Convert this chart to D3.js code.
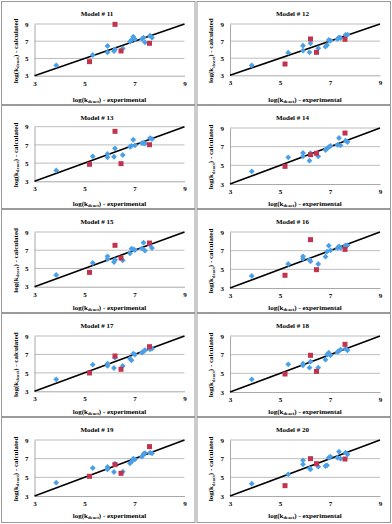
<!DOCTYPE html>
<html><head><meta charset="utf-8">
<script src="https://cdn.jsdelivr.net/npm/d3@7"></script>
<style>body{margin:0;background:#fff}svg{display:block}</style>
</head><body>
<svg id="c" width="392" height="524"></svg>
<script>
// ---- data ----
const models = ["Model # 11","Model # 12","Model # 13","Model # 14","Model # 15","Model # 16","Model # 17","Model # 18","Model # 19","Model # 20"];
const ticks = [3,5,7,9];
const blueX = [3.87,5.33,5.92,5.92,6.18,6.22,6.53,6.82,6.88,6.95,7.02,7.30,7.36,7.42,7.62,7.70];
const redX  = [5.20,6.22,6.46,7.60];
const blueY11 = [4.20,5.40,6.45,5.71,5.85,6.06,6.17,6.95,7.14,7.53,7.22,7.26,7.41,6.87,7.64,7.41];
const blueY12 = [4.17,5.65,6.47,5.88,5.69,6.74,6.16,6.35,6.55,7.13,7.05,7.25,7.44,7.36,7.71,7.75];
const blueY13 = [4.20,5.74,6.00,5.64,5.70,6.62,5.89,6.80,6.90,7.57,6.95,7.20,7.20,7.15,7.75,7.65];
const blueY14 = [4.36,5.86,6.32,5.96,5.50,6.30,5.96,6.64,6.80,6.95,7.07,7.20,7.93,7.14,7.64,7.50];
const blueY15 = [4.28,5.60,6.33,6.04,5.71,5.95,5.89,6.66,7.17,7.10,7.02,7.20,7.83,6.95,7.60,7.24];
const blueY16 = [4.29,5.57,6.39,6.14,6.04,5.86,5.57,6.36,6.90,7.54,7.04,7.29,7.46,7.30,7.57,7.57];
const blueY17 = [4.30,5.89,6.00,5.75,5.53,6.65,5.75,6.54,6.36,7.08,6.98,7.19,7.34,7.45,7.55,7.63];
const blueY18 = [4.36,5.96,6.04,5.86,5.61,6.25,5.61,6.46,7.00,7.21,6.93,7.29,7.40,7.54,7.64,7.46];
const blueY19 = [4.43,6.00,6.11,5.86,5.57,6.46,5.61,6.50,6.68,7.00,6.93,7.21,7.50,7.60,7.64,7.57];
const blueY20 = [4.32,5.32,6.82,6.39,5.96,5.86,6.14,6.21,6.29,7.11,7.21,7.11,7.75,7.00,7.64,7.46];
const redY11 = [4.63,8.96,5.87,6.76];
const redY12 = [4.32,7.25,5.69,7.21];
const redY13 = [4.87,8.49,4.94,7.02];
const redY14 = [4.89,6.14,6.29,8.46];
const redY15 = [4.57,7.54,6.15,7.79];
const redY16 = [4.36,8.18,4.96,7.14];
const redY17 = [4.99,6.83,5.39,7.84];
const redY18 = [4.93,6.93,5.21,8.11];
const redY19 = [5.11,6.36,5.43,8.29];
const redY20 = [4.11,7.00,6.46,6.96];
const blueYs = [blueY11,blueY12,blueY13,blueY14,blueY15,blueY16,blueY17,blueY18,blueY19,blueY20];
const redYs  = [redY11,redY12,redY13,redY14,redY15,redY16,redY17,redY18,redY19,redY20];

// ---- layout ----
const plotTop    = [23,23,21.7,23,23,23,23,23,23,23];
const plotBottom = [74.7,74.3,76.3,79,77.7,79,78.3,79,79,79];
const FONT = "'Liberation Serif','Times New Roman',serif";
const BLUE = "#4b9fe6", RED = "#c2334f";

const svg = d3.select("#c");
models.forEach((name, i) => {
  const col = i % 2, row = Math.floor(i / 2);
  const bx = col === 0 ? 1 : 196.5;
  const by = 1 + row * 104;
  const bh = row === 4 ? 105 : 103;
  const g = svg.append("g").attr("transform", `translate(${bx},${by})`);
  g.append("rect").attr("x",0.5).attr("y",0.5).attr("width",193.5).attr("height",bh)
    .attr("fill","#fff").attr("stroke","#9a9a9a").attr("stroke-width",1);

  const x = d3.scaleLinear().domain([3,9]).range([33.5, 183.5]);
  const y = d3.scaleLinear().domain([3,9]).range([plotBottom[i], plotTop[i]]);

  // gridlines
  g.append("g").selectAll("line").data(ticks.slice(1)).join("line")
    .attr("x1", x(3)).attr("x2", x(9)).attr("y1", d => y(d)).attr("y2", d => y(d))
    .attr("stroke","#bdbdbd").attr("stroke-width",1);

  const ya = g.append("g").attr("transform",`translate(${x(3)},0)`)
    .call(d3.axisLeft(y).tickValues(ticks).tickSize(0).tickPadding(6).tickFormat(d3.format("d")));
  const xa = g.append("g").attr("transform",`translate(0,${y(3)})`)
    .call(d3.axisBottom(x).tickValues(ticks).tickSize(0).tickPadding(5).tickFormat(d3.format("d")));
  [ya, xa].forEach(a => {
    a.select(".domain").attr("stroke","#a8a8a8");
    a.selectAll("text").attr("font-family",FONT).attr("font-weight","bold").attr("font-size",7).attr("fill","#000");
  });

  // diagonal
  g.append("line").attr("x1",x(3)).attr("y1",y(3)).attr("x2",x(9)).attr("y2",y(9))
    .attr("stroke","#000").attr("stroke-width",1.6);

  const diamond = d3.symbol(d3.symbolSquare, 17);
  g.append("g").selectAll("path").data(blueX.map((v,k)=>[v, blueYs[i][k]])).join("path")
    .attr("d", diamond)
    .attr("transform", d => `translate(${x(d[0])},${y(d[1])}) rotate(45)`)
    .attr("fill", BLUE);
  const square = d3.symbol(d3.symbolSquare, 25);
  g.append("g").selectAll("path").data(redX.map((v,k)=>[v, redYs[i][k]])).join("path")
    .attr("d", square)
    .attr("transform", d => `translate(${x(d[0])},${y(d[1])})`)
    .attr("fill", RED);

  // title
  g.append("text").attr("x",96).attr("y",15).attr("text-anchor","middle")
    .attr("font-family",FONT).attr("font-weight","bold").attr("font-size",7).text(name);

  // x title
  const xt = g.append("text").attr("x",(x(3)+x(9))/2).attr("y",100.5).attr("text-anchor","middle")
    .attr("font-family",FONT).attr("font-weight","bold").attr("font-size",7);
  xt.append("tspan").text("log(k");
  xt.append("tspan").attr("font-size",4.8).attr("dy",1.6).text("deact");
  xt.append("tspan").attr("dy",-1.6).text(") - experimental");

  // y title
  const cy = (plotTop[i] + plotBottom[i]) / 2 + 1;
  const yt = g.append("text").attr("transform",`translate(16.5,${cy}) rotate(-90)`).attr("text-anchor","middle")
    .attr("font-family",FONT).attr("font-weight","bold").attr("font-size",7);
  yt.append("tspan").text("log(k");
  yt.append("tspan").attr("font-size",4.8).attr("dy",1.6).text("deact");
  yt.append("tspan").attr("dy",-1.6).text(") - calculated");
});
</script>
</body></html>
